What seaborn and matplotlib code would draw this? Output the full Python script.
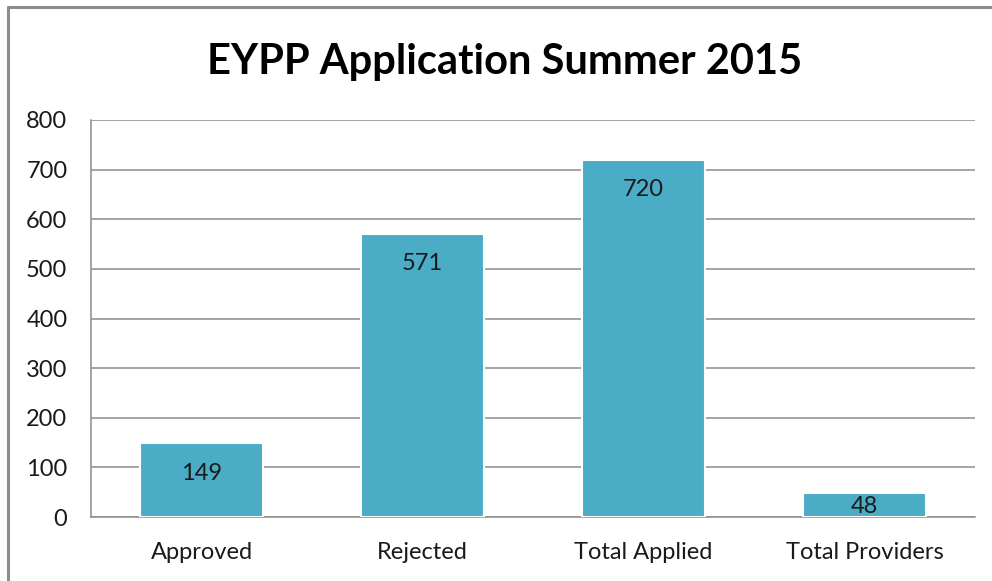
import matplotlib
matplotlib.use("Agg")
import matplotlib.pyplot as plt
import seaborn as sns
import pandas as pd
from matplotlib.lines import Line2D

categories = ["Approved", "Rejected", "Total Applied", "Total Providers"]
values = [149, 571, 720, 48]
yticks = [0, 100, 200, 300, 400, 500, 600, 700, 800]
title = "EYPP Application Summer 2015"

sns.set_theme(style="white")
plt.rcParams["font.family"] = ["Lato", "DejaVu Sans"]

df = pd.DataFrame({"category": categories, "value": values})

fig = plt.figure(figsize=(9.92, 5.81), dpi=100)
ax = fig.add_axes([91/992, 1-517/581, (975-91)/992, (517-120)/581])

sns.barplot(data=df, x="category", y="value", color="#4BACC6", saturation=1,
            width=0.556, edgecolor="white", linewidth=1.5, ax=ax, zorder=3)

ax.set_ylim(0, 800)
ax.set_xlim(-0.5, len(categories)-0.5)
ax.set_yticks(yticks)
ax.set_yticklabels([str(t) for t in yticks], fontsize=17, color="#1a1a1a")
ax.tick_params(axis="x", labelsize=17, colors="#1a1a1a", length=0, pad=18)
ax.tick_params(axis="y", length=0, pad=17)
ax.set_xlabel("")
ax.set_ylabel("")
ax.yaxis.grid(True, color="#8c8c8c", linewidth=1.1, zorder=0)
ax.set_axisbelow(True)
for s in ["top", "right"]:
    ax.spines[s].set_visible(False)
for s in ["left", "bottom"]:
    ax.spines[s].set_color("#8c8c8c")
    ax.spines[s].set_linewidth(1.1)

for i, v in enumerate(values):
    off = -21.6 if v > 100 else -9.5
    ax.annotate(str(v), xy=(i, v), xytext=(0, off), textcoords="offset points",
                ha="center", va="center", fontsize=17, color="#1a1a1a", zorder=5)

fig.text(505/992, 1-62/581, title, ha="center", va="center", fontsize=30,
         fontweight="bold", color="#000000")

# outer frame (left and top)
fig.add_artist(Line2D([7.5/992, 7.5/992], [0, 1-6.5/581], transform=fig.transFigure,
                      color="#8c8c8c", linewidth=2.2))
fig.add_artist(Line2D([7.5/992, 1], [1-6.5/581, 1-6.5/581], transform=fig.transFigure,
                      color="#8c8c8c", linewidth=2.2))

fig.savefig("out.png", dpi=100, facecolor="white")
